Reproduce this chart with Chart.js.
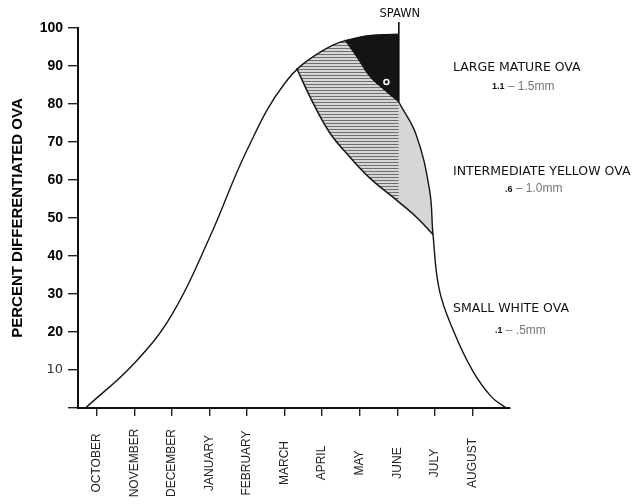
<!DOCTYPE html>
<html>
<head>
<meta charset="utf-8">
<script src="https://cdn.jsdelivr.net/npm/chart.js@4.4.0/dist/chart.umd.min.js"></script>
<style>
  html, body { margin: 0; padding: 0; background: #fff; }
</style>
</head>
<body>
<canvas id="chart" width="633" height="504"></canvas>
<script>
// months along the bottom, x value = index (0 = October)
var months = ["OCTOBER", "NOVEMBER", "DECEMBER", "JANUARY", "FEBRUARY", "MARCH",
              "APRIL", "MAY", "JUNE", "JULY", "AUGUST"];

// total differentiated ova, up to spawning
var totalX = [-0.3, 1.0, 2.0, 3.0, 4.0, 5.0, 6.0, 7.0, 8.04];
var totalY = [0, 11.8, 24.6, 44.8, 67.9, 85.4, 94.0, 97.6, 98.4];

// total after spawning
var afterX = [8.04, 8.5, 8.86, 8.95, 9.12, 9.5, 10.0, 10.5, 10.9];
var afterY = [80.5, 72, 57.3, 45.7, 31, 20.2, 9.9, 3, 0];

// upper limit of small white ova
var smallX = [5.32, 5.76, 6.21, 6.74, 7.27, 7.98, 8.51, 8.95];
var smallY = [89.4, 80.2, 72.3, 66, 60.5, 54.7, 50.2, 45.7];

// lower limit of large mature ova
var largeX = [6.6, 6.92, 7.27, 7.61, 8.04];
var largeY = [96.9, 92.4, 87.2, 84.1, 80.5];

var spawnX = 8.04;
var spawnY = [80.5, 101.6];
var markX = [7.71];
var markY = [85.8];

var yTicks = [10, 20, 30, 40, 50, 60, 70, 80, 90, 100];

var notes = ["LARGE MATURE OVA", "INTERMEDIATE YELLOW OVA", "SMALL WHITE OVA"];
var noteY = [89.5, 62.3, 26.2];
var sizeA = ["1.1", ".6", ".1"];
var sizeB = [" \u2013 1.5mm", " \u2013 1.0mm", " \u2013 .5mm"];
var sizeY = [84.5, 57.6, 20.4];
var sizeDx = [39, 52, 42];

function pts(xs, ys) {
    return xs.map(function (x, i) { return {x: x, y: ys[i]}; });
}

function hatch() {
    var c = document.createElement("canvas");
    c.width = 4; c.height = 3;
    var g = c.getContext("2d");
    g.fillStyle = "#d6d6d6";
    g.fillRect(0, 0, 4, 3);
    g.fillStyle = "#707070";
    g.fillRect(0, 0, 4, 1);
    return g.createPattern(c, "repeat");
}

var monthLabels = {
    id: "monthLabels",
    afterDraw: function (chart) {
        var ctx = chart.ctx, xs = chart.scales.x, ys = chart.scales.y;
        ctx.save();
        ctx.font = '12px "Liberation Sans", Arial, sans-serif';
        ctx.fillStyle = "#222";
        ctx.textAlign = "center";
        ctx.textBaseline = "middle";
        months.forEach(function (m, i) {
            ctx.save();
            ctx.translate(xs.getPixelForValue(i), chart.chartArea.bottom + 55);
            ctx.rotate(-Math.PI / 2);
            ctx.fillText(m, 0, 0);
            ctx.restore();
        });

        // notes on the right
        var left = chart.chartArea.right - 57;
        ctx.textAlign = "left";
        notes.forEach(function (t, i) {
            ctx.fillStyle = "#111";
            ctx.font = '12.5px "DejaVu Sans", sans-serif';
            ctx.fillText(t, left, ys.getPixelForValue(noteY[i]));
            var y2 = ys.getPixelForValue(sizeY[i]);
            ctx.font = 'bold 9px "Liberation Sans", Arial, sans-serif';
            ctx.fillText(sizeA[i], left + sizeDx[i], y2);
            var w = ctx.measureText(sizeA[i]).width;
            ctx.fillStyle = "#777";
            ctx.font = '12px "Liberation Sans", Arial, sans-serif';
            ctx.fillText(sizeB[i], left + sizeDx[i] + w, y2);
        });

        ctx.fillStyle = "#111";
        ctx.textAlign = "center";
        ctx.font = '11.5px "DejaVu Sans", sans-serif';
        ctx.fillText("SPAWN", xs.getPixelForValue(spawnX) + 1, chart.chartArea.top - 14);
        ctx.restore();
    }
};

new Chart(document.getElementById("chart"), {
    type: "line",
    data: {
        datasets: [
            {data: pts(totalX, totalY), borderColor: "#151515", borderWidth: 1.4, pointRadius: 0,
             tension: 0.4, fill: false, order: 0},
            {data: pts(afterX, afterY), borderColor: "#151515", borderWidth: 1.4, pointRadius: 0,
             tension: 0.4, fill: false, order: 0},
            {data: [{x: spawnX, y: spawnY[0]}, {x: spawnX, y: spawnY[1]}], borderColor: "#111",
             borderWidth: 1.6, pointRadius: 0, fill: false, clip: false, order: 0},
            {data: pts(markX, markY), showLine: false, pointRadius: 2.5, pointBackgroundColor: "#222",
             pointBorderColor: "#fff", pointBorderWidth: 1.5, order: -1},
            {data: pts(smallX, smallY), borderColor: "#1a1a1a", borderWidth: 1.6, pointRadius: 0,
             tension: 0.4, fill: 0, backgroundColor: hatch(), order: 3},
            {data: pts(smallX, smallY), borderWidth: 0, pointRadius: 0,
             tension: 0.4, fill: 1, backgroundColor: "#d6d6d6", order: 4},
            {data: pts(largeX, largeY), borderColor: "#111", borderWidth: 1, pointRadius: 0,
             tension: 0.4, fill: 0, backgroundColor: "#141414", order: 2}
        ]
    },
    options: {
        responsive: false,
        animation: false,
        layout: {padding: {left: 4, top: 28, right: 123, bottom: 0}},
        plugins: {legend: {display: false}, tooltip: {enabled: false}},
        scales: {
            x: {
                type: "linear",
                min: -0.5,
                max: 11,
                afterBuildTicks: function (s) {
                    s.ticks = months.map(function (m, i) { return {value: i}; });
                },
                afterFit: function (s) { s.height = 96; },
                ticks: {display: false},
                grid: {drawOnChartArea: false, drawTicks: true, tickLength: 8, color: "#222", lineWidth: 1.4},
                border: {color: "#111", width: 2}
            },
            y: {
                min: 0,
                max: 100,
                afterBuildTicks: function (s) {
                    s.ticks = [{value: 0}].concat(yTicks.map(function (v) { return {value: v}; }));
                },
                afterFit: function (s) { s.width = 74; },
                ticks: {
                    padding: 5,
                    color: function (c) { return c.tick && c.tick.value === 10 ? "#333" : "#000"; },
                    font: function (c) {
                        if (c.tick && c.tick.value === 10) {
                            return {family: '"DejaVu Sans", sans-serif', size: 13, weight: "normal"};
                        }
                        return {family: '"Liberation Sans", Arial, sans-serif', size: 14, weight: "bold"};
                    },
                    callback: function (v) { return v === 0 ? "" : v; }
                },
                grid: {drawOnChartArea: false, drawTicks: true, tickLength: 10, color: "#222", lineWidth: 1.4},
                border: {color: "#111", width: 2},
                title: {
                    display: true,
                    text: "PERCENT DIFFERENTIATED OVA",
                    color: "#000",
                    font: {family: '"Liberation Sans", Arial, sans-serif', size: 15, weight: "bold"},
                    padding: {top: 5, bottom: 0}
                }
            }
        }
    },
    plugins: [monthLabels]
});
</script>
</body>
</html>
